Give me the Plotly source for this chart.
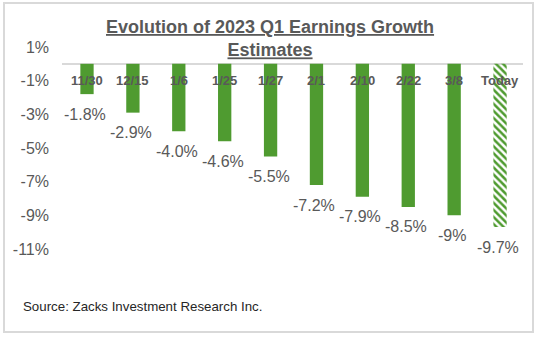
import plotly.graph_objects as go

# Q1 2023 earnings growth estimate at each revision date
dates = ["11/30", "12/15", "1/6", "1/25", "1/27", "2/1", "2/10", "2/22", "3/8", "Today"]
growth = [-1.8, -2.9, -4.0, -4.6, -5.5, -7.2, -7.9, -8.5, -9.0, -9.7]
value_labels = ["-1.8%", "-2.9%", "-4.0%", "-4.6%", "-5.5%", "-7.2%", "-7.9%", "-8.5%", "-9%", "-9.7%"]
y_ticks = [1, -1, -3, -5, -7, -9, -11]
y_tick_text = ["1%", "-1%", "-3%", "-5%", "-7%", "-9%", "-11%"]

GREEN = "#4F9B30"
GRAY = "#595959"
FONT = "Arial, Liberation Sans, sans-serif"

# the latest point is drawn hatched, the earlier ones solid
patterns = [""] * (len(dates) - 1) + ["\\"]

fig = go.Figure(
    go.Bar(
        x=dates,
        y=growth,
        marker=dict(
            color=GREEN,
            line=dict(width=0),
            pattern=dict(shape=patterns, fillmode="replace", size=5, solidity=0.5),
        ),
        hoverinfo="skip",
    )
)

annotations = []
# category labels sit just under the zero line, across the bars
for d in dates:
    annotations.append(dict(
        x=d, y=0, xref="x", yref="y", text=f"<b>{d}</b>", showarrow=False,
        yanchor="middle", yshift=-17,
        font=dict(family=FONT, size=13, color=GRAY),
    ))
# value labels below each bar end
for d, v, t in zip(dates, growth, value_labels):
    annotations.append(dict(
        x=d, y=v, xref="x", yref="y", text=t, showarrow=False,
        yanchor="middle", yshift=-20, xshift=-2,
        font=dict(family=FONT, size=16, color=GRAY),
    ))
# title
annotations.append(dict(
    x=0.451, y=1.04, xref="paper", yref="paper",
    text="<b><u>Evolution of 2023 Q1 Earnings Growth</u></b><br><b><u>Estimates</u></b>",
    showarrow=False, xanchor="center", yanchor="middle", align="center",
    font=dict(family=FONT, size=18, color=GRAY),
))
# source note
annotations.append(dict(
    x=-0.089, y=-0.287, xref="paper", yref="paper",
    text="Source: Zacks Investment Research Inc.",
    showarrow=False, xanchor="left", yanchor="middle",
    font=dict(family=FONT, size=13.3, color="#262626"),
))

fig.update_layout(
    width=541,
    height=340,
    margin=dict(l=62, r=18, t=47, b=91),
    paper_bgcolor="white",
    plot_bgcolor="white",
    showlegend=False,
    bargap=0.71,
    xaxis=dict(showticklabels=False, showgrid=False, showline=False, zeroline=False, ticks=""),
    yaxis=dict(
        range=[-11, 1],
        tickvals=y_ticks,
        ticktext=y_tick_text,
        showgrid=False,
        showline=False,
        zeroline=True,
        zerolinecolor="#D9D9D9",
        zerolinewidth=2,
        ticks="",
        ticklabelstandoff=12,
        tickfont=dict(family=FONT, size=16, color=GRAY),
    ),
    annotations=annotations,
    shapes=[dict(
        type="rect", xref="paper", yref="paper",
        x0=-0.1258, x1=1.0217, y0=-0.411, y1=1.218,
        line=dict(color="#D9D9D9", width=2), fillcolor="rgba(0,0,0,0)", layer="below",
    )],
)

fig.write_html("out.html")
